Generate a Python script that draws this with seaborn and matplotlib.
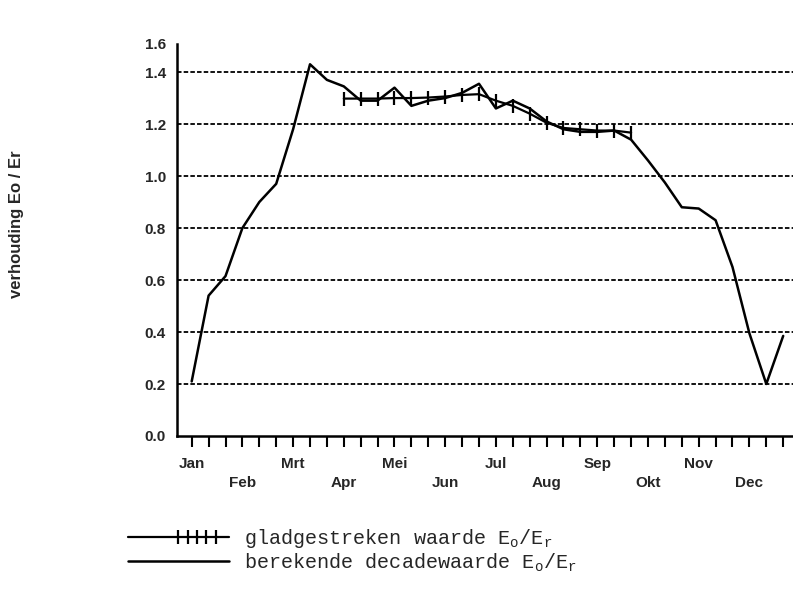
import numpy as np
import pandas as pd
import seaborn as sns
import matplotlib.pyplot as plt
from matplotlib.ticker import FixedLocator
from matplotlib.legend_handler import HandlerLine2DCompound

# === DATA (decade index 0..35, three decades per month) ===
decades = list(range(36))
ratio = [0.21, 0.54, 0.615, 0.80, 0.90, 0.97, 1.18, 1.43, 1.37, 1.345, 1.29, 1.29,
         1.34, 1.27, 1.29, 1.30, 1.32, 1.355, 1.26, 1.29, 1.26, 1.21, 1.18, 1.17,
         1.17, 1.175, 1.14, 1.06, 0.975, 0.88, 0.875, 0.83, 0.65, 0.395, 0.20, 0.385]
smooth_decades = list(range(9, 27))
smooth = [1.298, 1.298, 1.298, 1.300, 1.300, 1.302, 1.306, 1.312, 1.315,
          1.29, 1.27, 1.24, 1.205, 1.185, 1.18, 1.175, 1.175, 1.167]
months = ["Jan", "Feb", "Mrt", "Apr", "Mei", "Jun",
          "Jul", "Aug", "Sep", "Okt", "Nov", "Dec"]
y_ticks = [0.0, 0.2, 0.4, 0.6, 0.8, 1.0, 1.2, 1.4, 1.508]
y_labels = ["0.0", "0.2", "0.4", "0.6", "0.8", "1.0", "1.2", "1.4", "1.6"]

df = pd.DataFrame({"decade": decades, "ratio": ratio})
df_s = pd.DataFrame({"decade": smooth_decades, "ratio": smooth})


class TickedHandle(HandlerLine2DCompound):
    # full-length line in the legend, tick markers only in its right part
    def get_xdata(self, legend, xdescent, ydescent, width, height, fontsize):
        n = self.get_numpoints(legend)
        x = np.linspace(-xdescent, -xdescent + width, n)
        xm = np.linspace(-xdescent + 0.5 * width, -xdescent + 0.87 * width, n)
        return x, xm


sns.set_style("white")
plt.rcParams["font.family"] = ["Liberation Sans", "DejaVu Sans"]

fig = plt.figure(figsize=(7.93, 5.97), dpi=100)
ax = fig.add_axes([0.2232, 0.2697, 0.7768, 0.6566])

# === lines ===
sns.lineplot(data=df_s, x="decade", y="ratio", ax=ax, color="black", lw=1.6,
             marker="|", markersize=10, markeredgewidth=1.6, markeredgecolor="black",
             label=r"gladgestreken waarde E$_\mathregular{o}$/E$_\mathregular{r}$")
sns.lineplot(data=df, x="decade", y="ratio", ax=ax, color="black", lw=1.8,
             label=r"berekende decadewaarde E$_\mathregular{o}$/E$_\mathregular{r}$")

# === axes ===
ax.set_xlim(-0.87, 35.58)
ax.set_ylim(0, 1.508)
for s in ["top", "right"]:
    ax.spines[s].set_visible(False)
for s in ["left", "bottom"]:
    ax.spines[s].set_color("black")
    ax.spines[s].set_linewidth(1.8)

ax.set_yticks(y_ticks)
ax.set_yticklabels(y_labels, fontsize=11, fontweight="bold")
ax.tick_params(axis="y", length=0, pad=8)

ax.xaxis.remove_overlapping_locs = False
ax.xaxis.set_major_locator(FixedLocator(decades))
ax.set_xticklabels([])
ax.xaxis.set_minor_locator(FixedLocator([3 * k for k in range(12)]))
ax.set_xticklabels([m if k % 2 == 0 else "\n" + m for k, m in enumerate(months)],
                   minor=True, fontsize=11, fontweight="bold",
                   family=["Liberation Sans Narrow", "Liberation Sans"])
for lab in ax.get_xticklabels(minor=True):
    lab.set_linespacing(1.45)
ax.tick_params(axis="x", which="major", direction="out", length=8, width=1.5,
               color="black", bottom=True)
ax.tick_params(axis="x", which="minor", length=0, pad=15, bottom=True)

# dashed grid at the y ticks (not at the axis or the top)
ax.yaxis.grid(True, color="black", linestyle=(0, (2.5, 1.2)), linewidth=1.3)
ax.xaxis.grid(False)
gl = ax.yaxis.get_gridlines()
gl[0].set_visible(False)
gl[-1].set_visible(False)

ax.set_xlabel("")
ax.set_ylabel("verhouding Eo / Er", fontsize=12, fontweight="bold")
ax.yaxis.set_label_coords(-0.248, 0.54)

# === legend below the plot ===
handles, labels = ax.get_legend_handles_labels()
ax.legend(handles, labels, loc="upper left", bbox_to_anchor=(0.1614, 0.1165),
          bbox_transform=fig.transFigure, frameon=False, borderpad=0,
          borderaxespad=0, handlelength=5.0, handletextpad=0.75, labelspacing=0.05,
          handler_map={handles[0]: TickedHandle(numpoints=5)},
          prop={"family": ["Liberation Mono", "DejaVu Sans Mono"], "size": 14.5})

fig.savefig("out.png", dpi=100)
